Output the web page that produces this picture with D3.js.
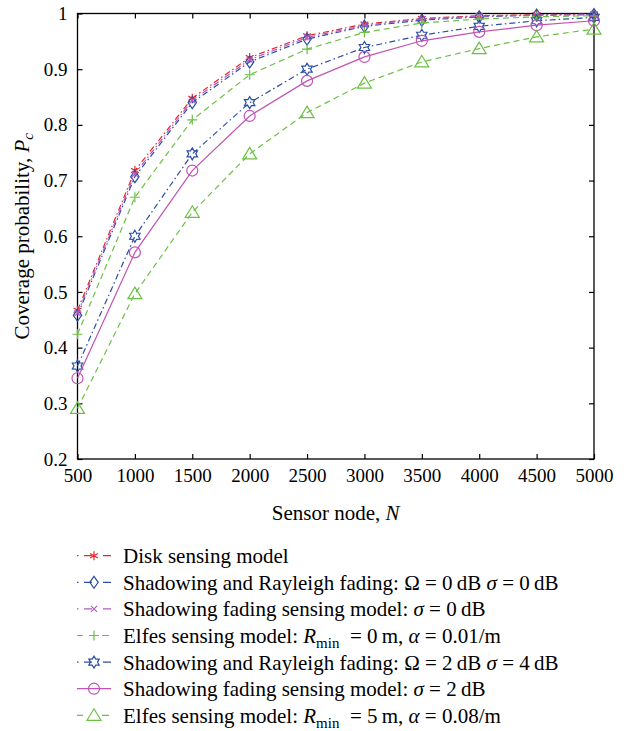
<!DOCTYPE html>
<html>
<head>
<meta charset="utf-8">
<script src="https://cdn.jsdelivr.net/npm/d3@7"></script>
<style>
  body { margin: 0; background: #fff; }
  svg, svg text { font-family: "Liberation Serif", "DejaVu Serif", serif; }
  svg { display: block; }
</style>
</head>
<body>
<svg width="626" height="731"></svg>
<script>
// sensor nodes on x axis
const nodes = [500, 1000, 1500, 2000, 2500, 3000, 3500, 4000, 4500, 5000];
const xTicks = [500, 1000, 1500, 2000, 2500, 3000, 3500, 4000, 4500, 5000];
const yTicks = [0.2, 0.3, 0.4, 0.5, 0.6, 0.7, 0.8, 0.9, 1];

// coverage probability per model
const diskModel = [0.467, 0.718, 0.848, 0.921, 0.960, 0.981, 0.991, 0.996, 0.998, 0.999];
const rayleigh0 = [0.458, 0.707, 0.840, 0.913, 0.954, 0.977, 0.988, 0.994, 0.997, 0.998];
const shadowing0 = [0.462, 0.712, 0.844, 0.917, 0.957, 0.979, 0.990, 0.995, 0.997, 0.998];
const elfes0 = [0.424, 0.670, 0.809, 0.890, 0.936, 0.966, 0.983, 0.990, 0.994, 0.996];
const rayleigh2 = [0.367, 0.600, 0.748, 0.840, 0.900, 0.939, 0.961, 0.977, 0.987, 0.993];
const shadowing2 = [0.345, 0.571, 0.718, 0.816, 0.879, 0.922, 0.951, 0.967, 0.979, 0.987];
const elfes5 = [0.291, 0.497, 0.643, 0.748, 0.822, 0.875, 0.913, 0.937, 0.958, 0.972];

const seriesList = [
  {values: diskModel, color: '#e8262b', dash: 'dashdot', marker: 'asterisk'},
  {values: rayleigh0, color: '#2b4ea6', dash: 'dashdot', marker: 'diamond'},
  {values: shadowing0, color: '#b25cc0', dash: 'dashdot', marker: 'x'},
  {values: elfes0, color: '#6cc046', dash: 'dashed', marker: 'plus'},
  {values: rayleigh2, color: '#2b4ea6', dash: 'dashdot', marker: 'hexagram'},
  {values: shadowing2, color: '#c253b3', dash: 'solid', marker: 'circle'},
  {values: elfes5, color: '#6cc046', dash: 'dashed', marker: 'triangle'}
];

const svg = d3.select('svg');
const plotLeft = 77.5, plotRight = 594, plotTop = 13.5, plotBottom = 459;
const serif = '"Liberation Serif", "DejaVu Serif", serif';

const x = d3.scaleLinear().domain([500, 5000]).range([plotLeft, plotRight]);
const y = d3.scaleLinear().domain([0.2, 1]).range([plotBottom, plotTop]);

const dashes = {dashdot: '6,3,1.5,3', dashed: '6,4', solid: null};
const legendDashes = {dashdot: '1.5,5.5,8,11,8', dashed: '6,19,7', solid: null};

// marker shapes as path strings around 0,0
function markerPath(type) {
  const p = d3.path();
  if (type === 'circle') {
    p.arc(0, 0, 5.5, 0, 2 * Math.PI);
  } else if (type === 'diamond') {
    p.moveTo(0, -6); p.lineTo(4.2, 0); p.lineTo(0, 6); p.lineTo(-4.2, 0); p.closePath();
  } else if (type === 'triangle') {
    p.moveTo(0, -6.5); p.lineTo(7, 5); p.lineTo(-7, 5); p.closePath();
  } else if (type === 'plus') {
    p.moveTo(-5, 0); p.lineTo(5, 0); p.moveTo(0, -5); p.lineTo(0, 5);
  } else if (type === 'x') {
    p.moveTo(-3, -3); p.lineTo(3, 3); p.moveTo(3, -3); p.lineTo(-3, 3);
  } else if (type === 'asterisk') {
    for (let i = 0; i < 3; i++) {
      const a = Math.PI / 2 + i * Math.PI / 3;
      p.moveTo(4.5 * Math.cos(a), 4.5 * Math.sin(a));
      p.lineTo(-4.5 * Math.cos(a), -4.5 * Math.sin(a));
    }
  } else if (type === 'hexagram') {
    for (let i = 0; i < 12; i++) {
      const r = i % 2 === 0 ? 6 : 3.5;
      const a = -Math.PI / 2 + i * Math.PI / 6;
      if (i === 0) p.moveTo(r * Math.cos(a), r * Math.sin(a));
      else p.lineTo(r * Math.cos(a), r * Math.sin(a));
    }
    p.closePath();
  }
  return p.toString();
}

// axes with inward ticks on all four sides
svg.append('g')
  .attr('transform', `translate(0,${plotBottom})`)
  .call(d3.axisBottom(x).tickValues(xTicks).tickSize(-5).tickPadding(10).tickFormat(d3.format('d')))
  .call(g => g.selectAll('text').style('font-family', serif).attr('font-size', 19).attr('fill', '#000'));

svg.append('g')
  .attr('transform', `translate(0,${plotTop})`)
  .call(d3.axisTop(x).tickValues(xTicks).tickSize(-5).tickFormat(''));

svg.append('g')
  .attr('transform', `translate(${plotLeft},0)`)
  .call(d3.axisLeft(y).tickValues(yTicks).tickSize(-5).tickPadding(10).tickFormat(d => d === 1 ? '1' : d3.format('.1f')(d)))
  .call(g => g.selectAll('text').style('font-family', serif).attr('font-size', 19).attr('fill', '#000'));

svg.append('g')
  .attr('transform', `translate(${plotRight},0)`)
  .call(d3.axisRight(y).tickValues(yTicks).tickSize(-5).tickFormat(''));

svg.selectAll('.domain').remove();
svg.selectAll('.tick line').attr('stroke', '#000').attr('stroke-width', 1.2);

svg.append('rect')
  .attr('x', plotLeft).attr('y', plotTop)
  .attr('width', plotRight - plotLeft).attr('height', plotBottom - plotTop)
  .attr('fill', 'none').attr('stroke', '#000').attr('stroke-width', 1.3);

// lines and markers
const line = d3.line().x((d, i) => x(nodes[i])).y(d => y(d));

seriesList.forEach(s => {
  svg.append('path')
    .datum(s.values)
    .attr('d', line)
    .attr('fill', 'none')
    .attr('stroke', s.color)
    .attr('stroke-width', 1.2)
    .attr('stroke-dasharray', dashes[s.dash]);

  svg.append('g').selectAll('path').data(s.values)
    .enter().append('path')
    .attr('transform', (d, i) => `translate(${x(nodes[i])},${y(d)})`)
    .attr('d', markerPath(s.marker))
    .attr('fill', 'none')
    .attr('stroke', s.color)
    .attr('stroke-width', 1.2);
});

// axis titles
svg.append('text')
  .attr('x', (plotLeft + plotRight) / 2).attr('y', 520)
  .attr('text-anchor', 'middle').attr('font-size', 21)
  .text('Sensor node, ')
  .append('tspan').attr('font-style', 'italic').text('N');

const yTitle = svg.append('text')
  .attr('transform', `translate(29,${(plotTop + plotBottom) / 2}) rotate(-90)`)
  .attr('text-anchor', 'middle').attr('font-size', 21);
yTitle.append('tspan').text('Coverage probability, ');
yTitle.append('tspan').attr('font-style', 'italic').text('P');
yTitle.append('tspan').attr('font-style', 'italic').attr('font-size', 15).attr('dy', 4).text('c');

// legend labels as pieces: [text, style]
const legendLabels = [
  [['Disk sensing model', '']],
  [['Shadowing and Rayleigh fading: ', ''], ['Ω', ''], [' = 0\u2009dB ', ''], ['σ', 'i'], [' = 0\u2009dB', '']],
  [['Shadowing fading sensing model: ', ''], ['σ', 'i'], [' = 0\u2009dB', '']],
  [['Elfes sensing model: ', ''], ['R', 'i'], ['min', 'sub'], ['  = 0\u2009m, ', ''], ['α', 'i'], [' = 0.01/m', '']],
  [['Shadowing and Rayleigh fading: ', ''], ['Ω', ''], [' = 2\u2009dB ', ''], ['σ', 'i'], [' = 4\u2009dB', '']],
  [['Shadowing fading sensing model: ', ''], ['σ', 'i'], [' = 2\u2009dB', '']],
  [['Elfes sensing model: ', ''], ['R', 'i'], ['min', 'sub'], ['  = 5\u2009m, ', ''], ['α', 'i'], [' = 0.08/m', '']]
];

const legendTop = 555.7, legendStep = 26.6;

seriesList.forEach((s, i) => {
  const cy = legendTop + i * legendStep;
  svg.append('line')
    .attr('x1', 77).attr('x2', 111).attr('y1', cy).attr('y2', cy)
    .attr('stroke', s.color).attr('stroke-width', 1.2)
    .attr('stroke-dasharray', legendDashes[s.dash]);
  svg.append('path')
    .attr('transform', `translate(94,${cy})`)
    .attr('d', markerPath(s.marker))
    .attr('fill', 'none').attr('stroke', s.color).attr('stroke-width', 1.2);

  const t = svg.append('text')
    .attr('x', 123).attr('y', cy + 7.5)
    .attr('font-size', 21).attr('fill', '#000')
    .attr('xml:space', 'preserve');
  let shifted = false;
  legendLabels[i].forEach(part => {
    const ts = t.append('tspan').text(part[0]);
    if (part[1] === 'i') ts.attr('font-style', 'italic');
    if (part[1] === 'sub') { ts.attr('font-size', 15).attr('dy', 5); shifted = true; }
    else if (shifted) { ts.attr('dy', -5); shifted = false; }
  });
});
</script>
</body>
</html>
